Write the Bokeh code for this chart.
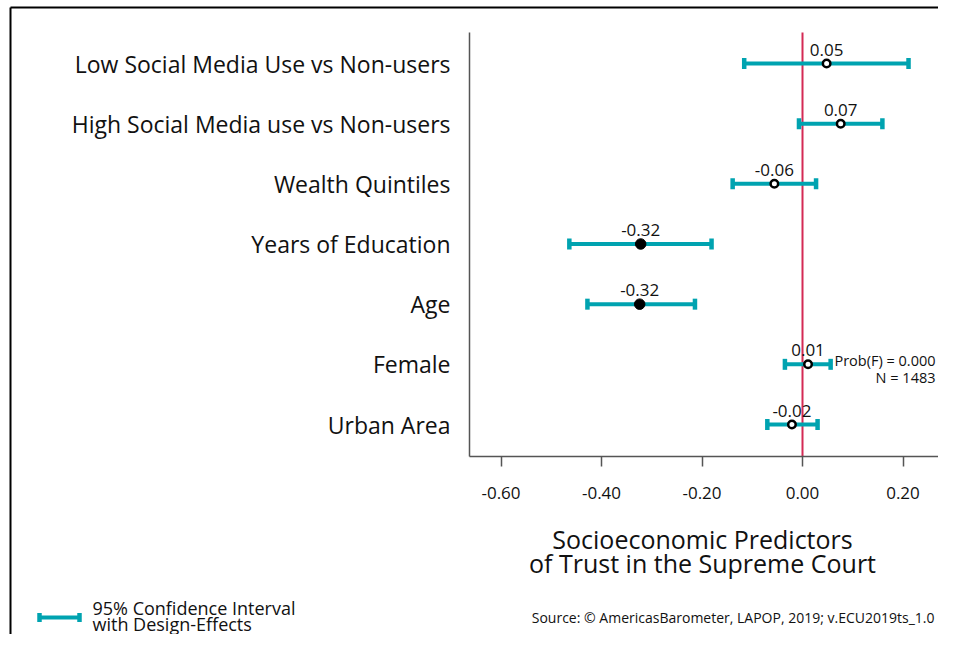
from bokeh.plotting import figure
from bokeh.models import (Range1d, FixedTicker, NumeralTickFormatter, Label,
                          ColumnDataSource)
from bokeh.embed import file_html
from bokeh.resources import INLINE
from bokeh.core.properties import value

# ---------------- data ----------------
categories = ["Low Social Media Use vs Non-users",
              "High Social Media use vs Non-users",
              "Wealth Quintiles",
              "Years of Education",
              "Age",
              "Female",
              "Urban Area"]
estimates = [0.048, 0.076, -0.056, -0.322, -0.324, 0.011, -0.021]
ci_lower = [-0.116, -0.007, -0.139, -0.464, -0.428, -0.035, -0.070]
ci_upper = [0.211, 0.159, 0.027, -0.181, -0.214, 0.056, 0.030]
value_labels = ["0.05", "0.07", "-0.06", "-0.32", "-0.32", "0.01", "-0.02"]
x_ticks = [-0.6, -0.4, -0.2, 0.0, 0.2]
prob_f = "0.000"
n_obs = "1483"
x_title = ["Socioeconomic Predictors", "of Trust in the Supreme Court"]
legend_text = ["95% Confidence Interval", "with Design-Effects"]
source_text = "Source: \u00a9 AmericasBarometer, LAPOP, 2019; v.ECU2019ts_1.0"

# ---------------- style / layout ----------------
TEAL = "#00a3b0"
RED = "#d42a55"
AXIS = "#555555"
TXT = "#111111"
FONT = "Open Sans"

W, H = 938, 634
# pixel geometry of the data region (canvas pixels)
PX_ZERO, PX_PER_UNIT = 802.0, 502.5     # x: value 0 at 802 px
ROW_TOP_PX, ROW_STEP_PX = 63.0, 60.167  # y: top row centre, row spacing

def xd(px):
    return (px - PX_ZERO) / PX_PER_UNIT

def yd(py):
    return 7 - (py - ROW_TOP_PX) / ROW_STEP_PX

X0, X1 = xd(469), min(xd(940), xd(W))   # data region
Y0, Y1 = yd(456), yd(32)

n = len(categories)
rows = [n - i for i in range(n)]
sig = [(lo > 0) or (hi < 0) for lo, hi in zip(ci_lower, ci_upper)]

src = ColumnDataSource(dict(
    y=rows, est=estimates, lo=ci_lower, hi=ci_upper, lab=value_labels,
    fill=["black" if s else "white" for s in sig],
    size=[10.5 if s else 7.5 for s in sig],
    lw=[1 if s else 2.5 for s in sig],
))

p = figure(width=W, height=H, output_backend="svg", toolbar_location=None,
           x_range=Range1d(xd(0), xd(W)), y_range=Range1d(yd(H), yd(0)),
           min_border=0, min_border_left=0, min_border_right=0,
           min_border_top=0, min_border_bottom=0)
p.grid.visible = False
p.outline_line_color = None
p.background_fill_color = "white"
p.border_fill_color = "white"

# zero reference line
p.segment(x0=[0], y0=[Y0], x1=[0], y1=[Y1], line_color=RED, line_width=2)

# confidence intervals
p.segment(x0="lo", y0="y", x1="hi", y1="y", source=src,
          line_color=TEAL, line_width=4)
for col in ("lo", "hi"):
    p.rect(x=col, y="y", width=4.5, height=11, width_units="screen",
           height_units="screen", source=src, fill_color=TEAL, line_color=None)

# point estimates
p.scatter(x="est", y="y", size="size", fill_color="fill", line_color="black",
          line_width="lw", source=src)

# value labels
p.text(x="est", y="y", text="lab", source=src, text_align="center",
       text_baseline="middle", y_offset=-14, text_font=value(FONT),
       text_font_size="17px", text_color=TXT)

# axes (drawn at fixed positions inside the canvas)
xa = p.xaxis[0]
xa.fixed_location = Y0
xa.bounds = (X0, X1)
xa.ticker = FixedTicker(ticks=x_ticks)
xa.formatter = NumeralTickFormatter(format="0.00")
xa.axis_line_color = AXIS
xa.axis_line_width = 1.5
xa.major_tick_line_color = AXIS
xa.major_tick_line_width = 1.5
xa.major_tick_out = 10
xa.major_tick_in = 0
xa.minor_tick_line_color = None
xa.major_label_standoff = 20
xa.major_label_text_font = FONT
xa.major_label_text_font_size = "17px"
xa.major_label_text_color = TXT

ya = p.yaxis[0]
ya.fixed_location = X0
ya.bounds = (Y0, Y1)
ya.ticker = FixedTicker(ticks=rows)
ya.major_label_overrides = {r: c for r, c in zip(rows, categories)}
ya.axis_line_color = AXIS
ya.axis_line_width = 1.5
ya.major_tick_line_color = None
ya.minor_tick_line_color = None
ya.major_label_standoff = 13
ya.major_label_text_font = FONT
ya.major_label_text_font_size = "23px"
ya.major_label_text_color = TXT

def label(px, py, text, size, align="left"):
    p.add_layout(Label(x=xd(px), y=yd(py), text=text, text_align=align,
                       text_baseline="middle", text_font=FONT,
                       text_font_size=size, text_color=TXT))

# x-axis title
label(702, 538, x_title[0], "25px", "center")
label(702, 562, x_title[1], "25px", "center")

# F-test annotation
label(935, 360, "Prob(F) = " + prob_f, "14.5px", "right")
label(935, 377, "N = " + n_obs, "14.5px", "right")

# legend
p.segment(x0=[xd(39)], y0=[yd(617)], x1=[xd(79)], y1=[yd(617)],
          line_color=TEAL, line_width=4)
p.rect(x=[xd(39), xd(79)], y=[yd(617)] * 2, width=4.5, height=9,
       width_units="screen", height_units="screen", fill_color=TEAL,
       line_color=None)
label(92, 607, legend_text[0], "18px")
label(92, 623, legend_text[1], "18px")

# source
label(934, 617, source_text, "14px", "right")

# outer frame lines
p.segment(x0=[xd(10), xd(10)], y0=[yd(7), yd(7)], x1=[xd(W), xd(10)],
          y1=[yd(7), yd(H)], line_color="black", line_width=2)

open("out.html", "w").write(file_html(p, INLINE))
